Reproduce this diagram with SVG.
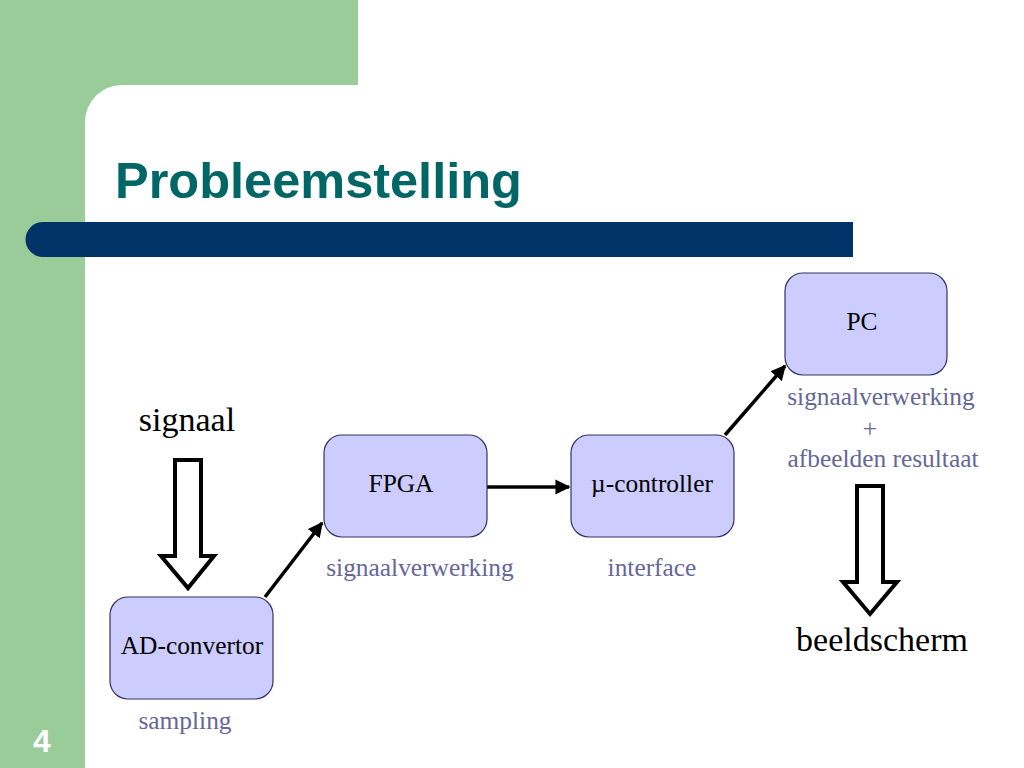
<svg xmlns="http://www.w3.org/2000/svg" width="1024" height="768" viewBox="0 0 1024 768">
<defs>
<style>
.node rect{fill:#ccccff;stroke:#333366;stroke-width:1.2}
.nt{font-family:"Liberation Serif",serif;font-size:25.4px;fill:#000;text-anchor:middle}
.lbl{font-family:"Liberation Serif",serif;font-size:25.4px;fill:#666699;text-anchor:middle}
.big{font-family:"Liberation Serif",serif;font-size:34px;fill:#000;text-anchor:middle}
.conn line{stroke:#000;stroke-width:3.5}
.hollow{fill:#fff;stroke:#000;stroke-width:4;stroke-linejoin:miter}
</style>
<marker id="ah" viewBox="0 0 10 10" refX="9" refY="5" markerWidth="4.3" markerHeight="4.3" orient="auto" markerUnits="strokeWidth">
<path d="M0,0 L10,5 L0,10 z" fill="#000"/>
</marker>
</defs>
<rect width="1024" height="768" fill="#fff"/>
<g id="background">
<rect x="0" y="0" width="358" height="85" fill="#99cc99"/>
<rect x="0" y="0" width="85" height="768" fill="#99cc99"/>
<path d="M85,85 L122,85 A37,37 0 0 0 85,122 Z" fill="#99cc99"/>
<path d="M43,222 L853,222 L853,257 L43,257 A17.5,17.5 0 0 1 43,222 Z" fill="#003366"/>
<text x="115" y="198" font-family="Liberation Sans,Arial,sans-serif" font-size="50.5" font-weight="bold" fill="#006666">Probleemstelling</text>
<text x="42" y="752" font-family="Liberation Sans,Arial,sans-serif" font-size="32" font-weight="bold" fill="#fff" text-anchor="middle">4</text>
</g>
<g class="conn" id="connectors">
<line x1="265" y1="597" x2="322" y2="523" marker-end="url(#ah)"/>
<line x1="487" y1="487" x2="569" y2="487" marker-end="url(#ah)"/>
<line x1="725" y1="435" x2="785" y2="366" marker-end="url(#ah)"/>
<path class="hollow" d="M175,460 L201,460 L201,556 L214,556 L188,588 L161,556 L175,556 Z"/>
<path class="hollow" d="M857,486 L883,486 L883,582 L897,582 L870,614 L843,582 L857,582 Z"/>
</g>
<g id="signaal"><text class="big" x="187" y="431">signaal</text></g>
<g id="beeldscherm"><text class="big" x="882" y="651">beeldscherm</text></g>
<g class="node" id="ad">
<rect x="110" y="597" width="163" height="102" rx="18"/>
<text class="nt" x="192" y="654">AD-convertor</text>
<text class="lbl" x="185" y="729">sampling</text>
</g>
<g class="node" id="fpga">
<rect x="324" y="435" width="163" height="102" rx="18"/>
<text class="nt" x="401" y="492">FPGA</text>
<text class="lbl" x="420" y="576">signaalverwerking</text>
</g>
<g class="node" id="mu">
<rect x="571" y="435" width="163" height="102" rx="18"/>
<text class="nt" x="652" y="492">µ-controller</text>
<text class="lbl" x="652" y="576">interface</text>
</g>
<g class="node" id="pc">
<rect x="785" y="273" width="162" height="102" rx="18"/>
<text class="nt" x="862" y="330">PC</text>
<text class="lbl" x="881" y="405">signaalverwerking</text>
<text class="lbl" x="870" y="437">+</text>
<text class="lbl" x="883" y="467">afbeelden resultaat</text>
</g>
</svg>
